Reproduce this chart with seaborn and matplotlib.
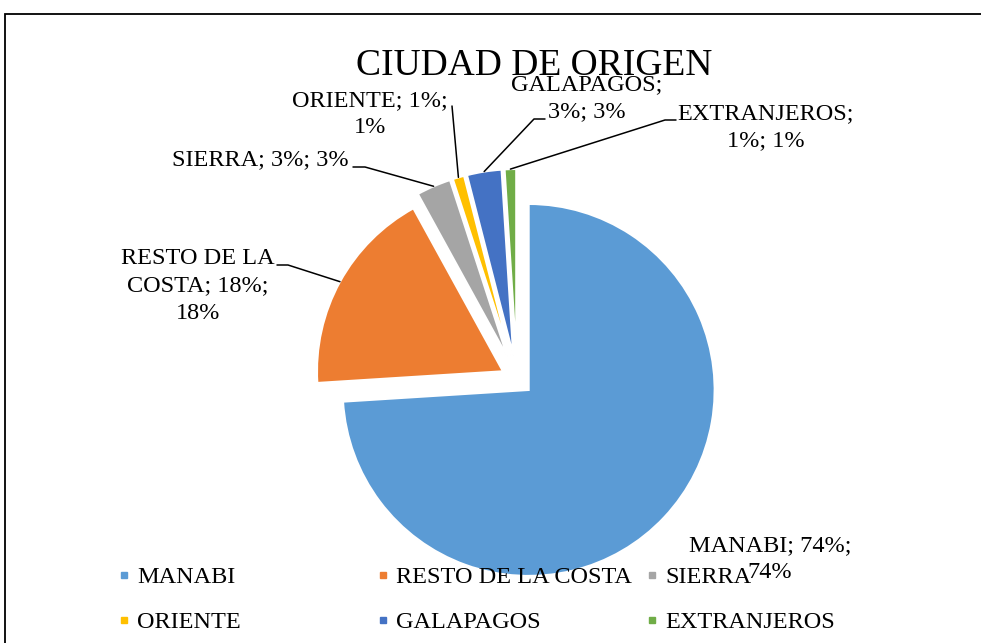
import numpy as np
import matplotlib
matplotlib.use("Agg")
import matplotlib.pyplot as plt
from matplotlib.lines import Line2D
from matplotlib.patches import Rectangle
import seaborn as sns

# data
categories = ["MANABI", "RESTO DE LA COSTA", "SIERRA", "ORIENTE", "GALAPAGOS", "EXTRANJEROS"]
values = [74, 18, 3, 1, 3, 1]
title = "CIUDAD DE ORIGEN"

colors = sns.color_palette(["#5B9BD5", "#ED7D31", "#A5A5A5", "#FFC000", "#4472C4", "#70AD47"])

sns.set_theme(style="white")
plt.rcParams['font.family'] = ['Liberation Serif', 'DejaVu Serif']
plt.rcParams['text.color'] = 'black'

W, H = 981, 643
fig = plt.figure(figsize=(W / 100, H / 100), dpi=100)
ax = fig.add_axes([0, 0, 1, 1])


def py(y):
    # pixel row -> data y
    return H - y


explode = [16, 16, 24, 24, 24, 24]
wedges, _ = ax.pie(
    values, colors=colors, startangle=90, counterclock=False,
    center=(517, py(379)), radius=186, explode=explode,
    wedgeprops=dict(edgecolor="white", linewidth=1.5),
)
ax.set_xlim(0, W)
ax.set_ylim(0, H)
ax.set_aspect("auto")
ax.axis("off")

# border of the chart area (runs off the right and bottom edges)
fig.patches.append(Rectangle((5 / W, -0.1), 2, 1.1 - 14 / H, transform=fig.transFigure,
                             fill=False, edgecolor="black", linewidth=1.3))

ax.text(534, py(66), title, ha="center", va="center", fontsize=27)

tot = sum(values)
label_text = {
    "MANABI": "MANABI; {p}%;\n{p}%",
    "RESTO DE LA COSTA": "RESTO DE LA\nCOSTA; {p}%;\n{p}%",
    "SIERRA": "SIERRA; {p}%; {p}%",
    "ORIENTE": "ORIENTE; {p}%;\n{p}%",
    "GALAPAGOS": "GALAPAGOS;\n{p}%; {p}%",
    "EXTRANJEROS": "EXTRANJEROS;\n{p}%; {p}%",
}
# label centre, leader polyline start (pixels)
label_pos = {
    "MANABI": ((770, 559), None),
    "RESTO DE LA COSTA": ((198, 286), [(277, 265), (288, 265)]),
    "SIERRA": ((260, 160), [(353, 167), (365, 167)]),
    "ORIENTE": ((370, 114), [(452, 106)]),
    "GALAPAGOS": ((587, 98), [(545, 119), (534, 119)]),
    "EXTRANJEROS": ((766, 127), [(676, 120), (665, 120)]),
}

for cat, val, w in zip(categories, values, wedges):
    p = round(100 * val / tot)
    (lx, ly), lead = label_pos[cat]
    ax.text(lx, py(ly), label_text[cat].format(p=p), ha="center", va="center",
            fontsize=17.5, linespacing=1.38, color="black")
    if lead:
        th = np.deg2rad((w.theta1 + w.theta2) / 2)
        ex = w.center[0] + w.r * np.cos(th)
        ey = w.center[1] + w.r * np.sin(th)
        xs = [q[0] for q in lead] + [ex]
        ys = [py(q[1]) for q in lead] + [ey]
        ax.plot(xs, ys, color="black", linewidth=1.1)

# legend: three columns of two rows
handles = [Line2D([], [], linestyle="none", marker="s", markersize=4.5,
                  markerfacecolor=c, markeredgecolor=c) for c in colors]
col_x = [118, 377, 646]
for j, x0 in enumerate(col_x):
    idx = [j, j + 3]
    fig.legend([handles[i] for i in idx], [categories[i] for i in idx],
               loc="upper left", bbox_to_anchor=(x0 / W, 1 - 566 / H),
               frameon=False, fontsize=17.5, handlelength=0.5, handletextpad=0.3,
               labelspacing=0.95, borderaxespad=0, borderpad=0)

fig.savefig("out.png", dpi=100)
